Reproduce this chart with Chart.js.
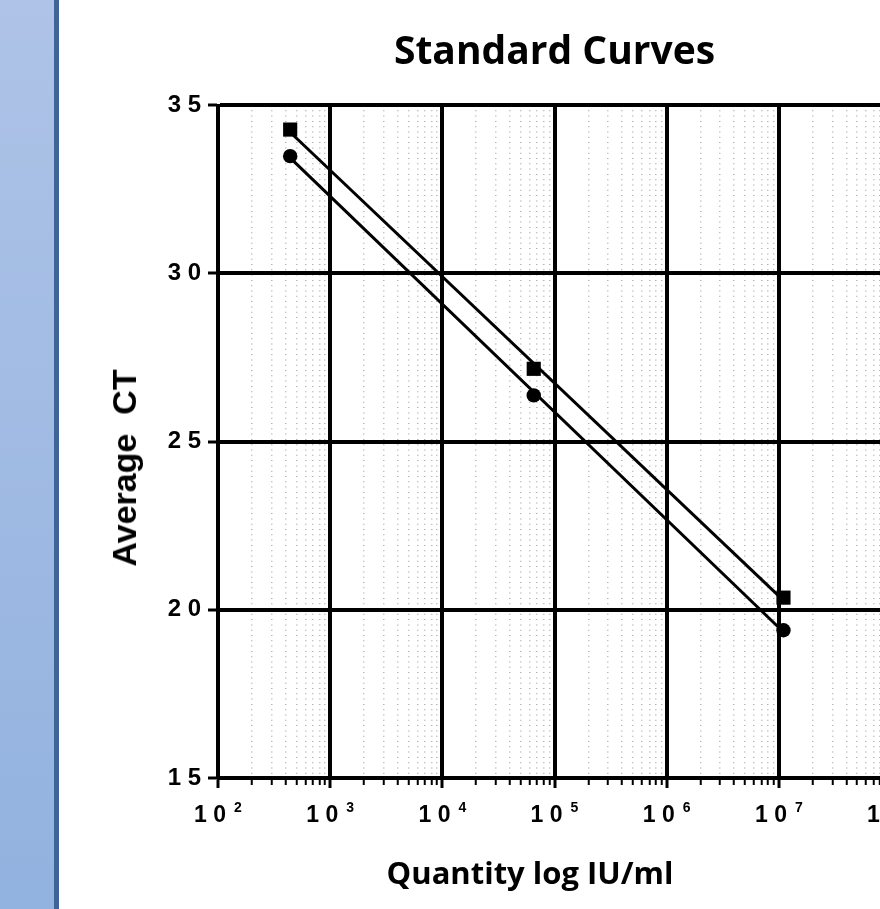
<!DOCTYPE html>
<html>
<head>
<meta charset="utf-8">
<title>Standard Curves</title>
<script src="https://cdn.jsdelivr.net/npm/chart.js@4.4.1/dist/chart.umd.min.js"></script>
<style>
  html, body { margin: 0; padding: 0; width: 880px; height: 909px; overflow: hidden; background: #fff; }
  #strip { position: absolute; left: 0; top: 0; width: 54px; height: 909px; background: linear-gradient(#aec3e7, #92b2df); }
  #stripEdge { position: absolute; left: 54px; top: 0; width: 5px; height: 909px; background: #3f6497; }
  #wrap { position: absolute; left: 60px; top: 0; width: 940px; height: 909px; }
  .axisTitle { position: absolute; white-space: pre; color: #000; }
  #yTitle { left: 124px; top: 468px; font: bold 34px "Liberation Sans", Arial, sans-serif; line-height: 34px;
            transform: translate(-50%, -50%) rotate(-90deg); }
  #xTitle { left: 530px; top: 856px; font: bold 31px "Open Sans", sans-serif; line-height: 32px;
            transform: translateX(-50%); }
</style>
</head>
<body>
<div id="strip"></div>
<div id="stripEdge"></div>
<div id="wrap"><canvas id="chart"></canvas></div>
<div class="axisTitle" id="yTitle">Average  CT</div>
<div class="axisTitle" id="xTitle">Quantity log IU/ml</div>

<script>
  // x axis: decades shown (10^2 .. 10^8) and minor steps inside each decade
  const decades = [2, 3, 4, 5, 6, 7, 8];
  const minorSteps = [2, 3, 4, 5, 6, 7, 8, 9];
  const xLabelBase = "1 0";
  const yTicks = [15, 20, 25, 30, 35];

  // measured points (quantity IU/ml -> average CT)
  const quantity = [440, 65300, 11000000];
  const ctSquares = [34.27, 27.16, 20.36];
  const ctCircles = [33.48, 26.37, 19.39];

  // straight fit lines, values at first and last quantity
  const fitSquares = [34.19, 20.28];
  const fitCircles = [33.43, 19.34];

  const majorValues = decades.map(d => 10 ** d);
  const xTickValues = [];
  decades.forEach((d, i) => {
    xTickValues.push(10 ** d);
    if (i < decades.length - 1) minorSteps.forEach(m => xTickValues.push(m * 10 ** d));
  });

  const isMajor = (tick) => !!tick && majorValues.includes(tick.value);

  Chart.defaults.font.family = '"Liberation Sans", Arial, sans-serif';
  Chart.defaults.color = "#000";

  const baseFont = 'bold 23px "Liberation Sans", Arial, sans-serif';
  const expFont = 'bold 14px "Liberation Sans", Arial, sans-serif';

  // "10" with a raised exponent under each decade tick
  const powerLabels = {
    id: "powerLabels",
    afterDraw(chart) {
      const { ctx } = chart;
      const scale = chart.scales.x;
      ctx.save();
      ctx.fillStyle = "#000";
      ctx.textBaseline = "alphabetic";
      ctx.textAlign = "left";
      decades.forEach(d => {
        const px = scale.getPixelForValue(10 ** d);
        const exp = String(d);
        ctx.font = baseFont;
        const wb = ctx.measureText(xLabelBase).width;
        ctx.font = expFont;
        const we = ctx.measureText(exp).width;
        const gap = 8;
        const start = px - (wb + gap + we) / 2;
        ctx.font = baseFont;
        ctx.fillText(xLabelBase, start, scale.top + 44);
        ctx.font = expFont;
        ctx.fillText(exp, start + wb + gap, scale.top + 34);
      });
      ctx.restore();
    }
  };

  new Chart(document.getElementById("chart"), {
    type: "scatter",
    data: {
      datasets: [
        {
          data: quantity.map((q, i) => ({ x: q, y: ctSquares[i] })),
          pointStyle: "rect",
          pointRadius: 10,
          backgroundColor: "#000",
          borderColor: "#000",
          borderWidth: 0
        },
        {
          data: quantity.map((q, i) => ({ x: q, y: ctCircles[i] })),
          pointStyle: "circle",
          pointRadius: 7.2,
          backgroundColor: "#000",
          borderColor: "#000",
          borderWidth: 0
        },
        {
          data: [{ x: quantity[0], y: fitSquares[0] }, { x: quantity[2], y: fitSquares[1] }],
          showLine: true,
          borderColor: "#000",
          borderWidth: 3,
          pointRadius: 0
        },
        {
          data: [{ x: quantity[0], y: fitCircles[0] }, { x: quantity[2], y: fitCircles[1] }],
          showLine: true,
          borderColor: "#000",
          borderWidth: 3,
          pointRadius: 0
        }
      ]
    },
    options: {
      responsive: true,
      maintainAspectRatio: false,
      animation: false,
      layout: { padding: { left: 0, right: 109, top: 0, bottom: 0 } },
      plugins: {
        legend: { display: false },
        tooltip: { enabled: false },
        title: {
          display: true,
          text: "Standard Curves",
          fullSize: false,
          color: "#000",
          font: { family: '"Open Sans", sans-serif', size: 39, weight: "bold" },
          padding: { top: 29, bottom: 29.2 }
        }
      },
      scales: {
        x: {
          type: "logarithmic",
          min: 100,
          max: 100000000,
          afterBuildTicks: s => { s.ticks = xTickValues.map(v => ({ value: v, major: majorValues.includes(v) })); },
          afterFit: s => { s.height = 131; },
          ticks: { display: false, autoSkip: false },
          grid: {
            color: c => isMajor(c.tick) ? "#000" : "#b4b4b4",
            lineWidth: c => isMajor(c.tick) ? 4 : 1.5,
            tickColor: "#000",
            tickLength: 10,
            tickWidth: c => isMajor(c.tick) ? 3 : 2,
            tickBorderDash: c => isMajor(c.tick) ? [] : [5, 60]
          },
          border: {
            color: "#000",
            width: 3,
            dash: c => (c.tick && !isMajor(c.tick)) ? [1, 4.3] : []
          }
        },
        y: {
          min: 15,
          max: 35,
          afterBuildTicks: s => { s.ticks = yTicks.map(v => ({ value: v })); },
          afterFit: s => { s.width = 158; },
          ticks: {
            padding: 7,
            font: { family: '"Liberation Sans", Arial, sans-serif', size: 24, weight: "bold" },
            callback: v => String(v).split("").join(" ")
          },
          grid: { color: "#000", lineWidth: 4, tickColor: "#000", tickLength: 10, tickWidth: 3 },
          border: { color: "#000", width: 3 }
        }
      }
    },
    plugins: [powerLabels]
  });
</script>
</body>
</html>
